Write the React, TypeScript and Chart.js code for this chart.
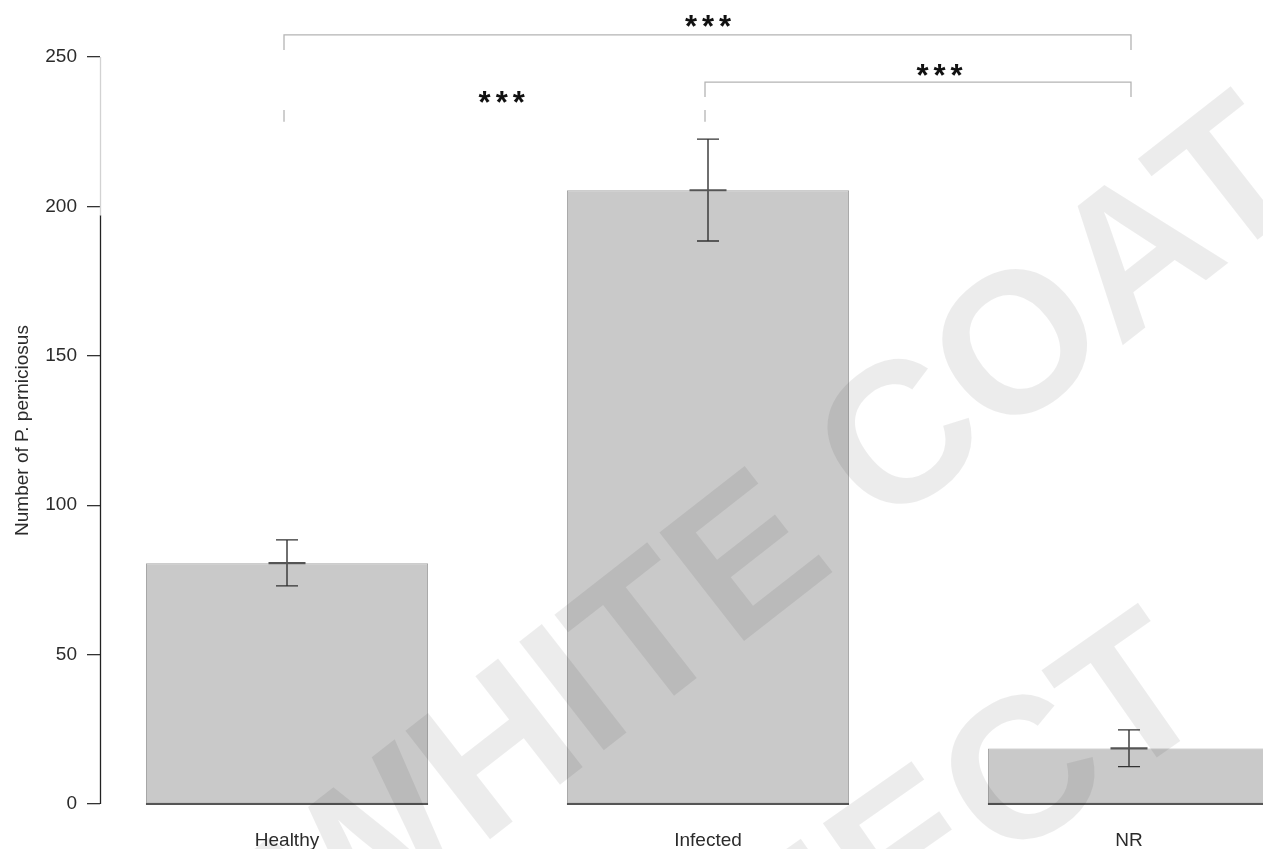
import React, { useEffect, useRef } from 'react';
import { Chart, registerables } from 'chart.js';

Chart.register(...registerables);

// ---- data ----
const categories = ['Healthy', 'Infected', 'NR'];
const meanValues = [80.6, 205.4, 18.6];
const errorLow = [73.0, 188.4, 12.5];
const errorHigh = [88.4, 222.5, 24.8];
const yTickValues = [0, 50, 100, 150, 200, 250];
const yTitle = 'Number of P. perniciosus';

// significance brackets (category index from/to, level in data units)
const bracketStart = [0, 1];
const bracketEnd = [2, 2];
const bracketLevel = [257.4, 241.6];
// star labels (category-index x, data-unit y)
const starLabels = ['***', '***', '***'];
const starX = [1.0, 1.55, 0.51];
const starY = [262.2, 245.8, 236.6];
// stray tick marks of the Healthy–Infected comparison
const strayTickX = [0, 1];
const strayTickY = [228.3, 232.3];

const watermarkLines = ['WHITE COAT', 'PROJECT'];

const FONT = 'Liberation Sans, Arial, Helvetica, sans-serif';
const TEXT = '#2b2b2b';

const overlayPlugin = {
  id: 'overlay',
  afterDatasetsDraw(chart: any) {
    const { ctx, chartArea } = chart;
    const xs = chart.scales.x;
    const ys = chart.scales.y;
    ctx.save();

    // bar bottom edges
    const meta = chart.getDatasetMeta(0);
    ctx.strokeStyle = '#555';
    ctx.lineWidth = 2;
    meta.data.forEach((bar: any) => {
      const p = bar.getProps(['x', 'width'], true);
      ctx.beginPath();
      ctx.moveTo(p.x - p.width / 2, ys.getPixelForValue(0));
      ctx.lineTo(Math.min(p.x + p.width / 2, chartArea.right), ys.getPixelForValue(0));
      ctx.stroke();
    });

    // error bars and mean marks
    categories.forEach((_, i) => {
      const px = xs.getPixelForValue(i);
      const yl = ys.getPixelForValue(errorLow[i]);
      const yh = ys.getPixelForValue(errorHigh[i]);
      const ym = ys.getPixelForValue(meanValues[i]);
      ctx.strokeStyle = '#333';
      ctx.lineWidth = 1.4;
      ctx.beginPath();
      ctx.moveTo(px, yl);
      ctx.lineTo(px, yh);
      ctx.moveTo(px - 11, yl);
      ctx.lineTo(px + 11, yl);
      ctx.moveTo(px - 11, yh);
      ctx.lineTo(px + 11, yh);
      ctx.stroke();
      ctx.strokeStyle = '#555';
      ctx.lineWidth = 2.2;
      ctx.beginPath();
      ctx.moveTo(px - 18.5, ym);
      ctx.lineTo(px + 18.5, ym);
      ctx.stroke();
    });

    // y axis line
    const ax = chartArea.left + 0.5;
    ctx.lineWidth = 1.3;
    ctx.strokeStyle = '#222';
    ctx.beginPath();
    ctx.moveTo(ax, ys.getPixelForValue(0));
    ctx.lineTo(ax, ys.getPixelForValue(197));
    ctx.stroke();
    ctx.strokeStyle = '#d2d2d2';
    ctx.beginPath();
    ctx.moveTo(ax, ys.getPixelForValue(197));
    ctx.lineTo(ax, ys.getPixelForValue(250));
    ctx.stroke();

    // brackets
    ctx.strokeStyle = '#b4b4b4';
    ctx.lineWidth = 1.3;
    bracketStart.forEach((s, k) => {
      const x1 = xs.getPixelForValue(s) - 3;
      const x2 = xs.getPixelForValue(bracketEnd[k]) + 2;
      const yy = ys.getPixelForValue(bracketLevel[k]);
      ctx.beginPath();
      ctx.moveTo(x1, yy + 15);
      ctx.lineTo(x1, yy);
      ctx.lineTo(x2, yy);
      ctx.lineTo(x2, yy + 15);
      ctx.stroke();
    });
    strayTickX.forEach((v) => {
      const px = xs.getPixelForValue(v) - 3;
      ctx.beginPath();
      ctx.moveTo(px, ys.getPixelForValue(strayTickY[1]));
      ctx.lineTo(px, ys.getPixelForValue(strayTickY[0]));
      ctx.stroke();
    });

    // stars
    ctx.fillStyle = '#111';
    ctx.font = `bold 31px ${FONT}`;
    (ctx as any).letterSpacing = '5px';
    ctx.textAlign = 'center';
    ctx.textBaseline = 'alphabetic';
    starLabels.forEach((t, k) => {
      const m = ctx.measureText('*');
      const cy = ys.getPixelForValue(starY[k]);
      const base = cy - (m.actualBoundingBoxDescent - m.actualBoundingBoxAscent) / 2;
      ctx.fillText(t, xs.getPixelForValue(starX[k]) + 2.5, base);
    });
    ctx.restore();
  },
  afterDraw(chart: any) {
    const { ctx } = chart;
    ctx.save();
    ctx.fillStyle = 'rgba(0,0,0,0.075)';
    ctx.font = `bold 200px ${FONT}`;
    ctx.textAlign = 'center';
    ctx.textBaseline = 'middle';
    const placements = [
      { cx: 790, cy: 535, deg: -38 },
      { cx: 800, cy: 940, deg: -35 },
    ];
    watermarkLines.forEach((line, i) => {
      const p = placements[i];
      ctx.save();
      ctx.translate(p.cx, p.cy);
      ctx.rotate((p.deg * Math.PI) / 180);
      ctx.fillText(line, 0, 0);
      ctx.restore();
    });
    ctx.restore();
  },
};

export default function App() {
  const ref = useRef<HTMLCanvasElement | null>(null);
  useEffect(() => {
    if (!ref.current) return;
    const chart = new Chart(ref.current, {
      type: 'bar',
      data: {
        datasets: [
          {
            data: meanValues.map((v, i) => ({ x: i, y: v })),
            backgroundColor: '#c9c9c9',
            borderColor: '#a6a6a6',
            borderWidth: 1,
            borderSkipped: false,
            categoryPercentage: 1,
            barPercentage: 0.67,
          } as any,
        ],
      },
      options: {
        responsive: false,
        animation: false,
        devicePixelRatio: 1,
        layout: { padding: { top: 57, right: 0, left: 0, bottom: 0 } },
        plugins: { legend: { display: false }, tooltip: { enabled: false } },
        scales: {
          x: {
            type: 'linear',
            offset: false,
            min: -0.4442,
            max: 2.3183,
            afterBuildTicks: (s: any) => {
              s.ticks = categories.map((_, i) => ({ value: i }));
            },
            afterFit: (s: any) => {
              s.height = 45;
            },
            grid: { display: false, drawTicks: false },
            border: { display: false },
            ticks: {
              callback: (v: any) => categories[v] ?? '',
              padding: 25,
              autoSkip: false,
              maxRotation: 0,
              font: { family: FONT, size: 19 },
              color: TEXT,
            },
          },
          y: {
            min: 0,
            max: 250,
            afterBuildTicks: (s: any) => {
              s.ticks = yTickValues.map((v) => ({ value: v }));
            },
            afterFit: (s: any) => {
              s.width = 100;
            },
            grid: { drawOnChartArea: false, drawTicks: true, tickLength: 13, color: '#333', lineWidth: 1.3 },
            border: { display: false },
            ticks: { padding: 10, font: { family: FONT, size: 19 }, color: TEXT },
            title: {
              display: true,
              text: yTitle,
              font: { family: FONT, size: 19 },
              color: TEXT,
              padding: { top: 11, bottom: 0 },
            },
          },
        },
      } as any,
      plugins: [overlayPlugin],
    });
    return () => chart.destroy();
  }, []);
  return (
    <div style={{ position: 'fixed', left: 0, top: 0, width: 1263, height: 849, background: '#fff' }}>
      <canvas ref={ref} width={1263} height={849} style={{ display: 'block' }} />
    </div>
  );
}
